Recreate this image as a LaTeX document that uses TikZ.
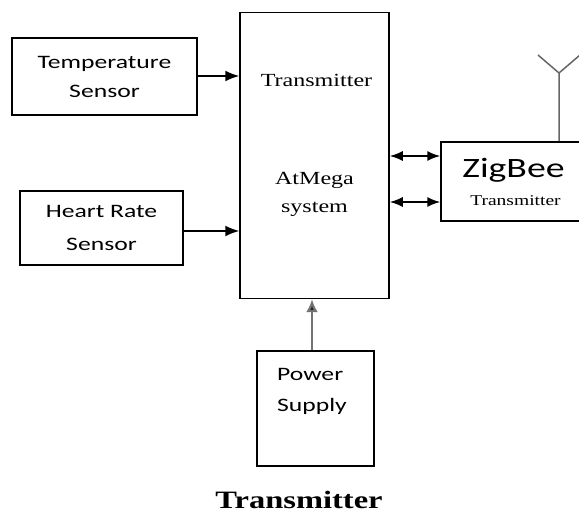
\documentclass[tikz,border=0pt]{standalone}
\usepackage{fontspec}
\setmainfont{Liberation Serif}[FakeStretch=1.3]
\newfontfamily\calibfont{Carlito}[FakeStretch=1.35]
\usetikzlibrary{arrows.meta}
\begin{document}
\begin{tikzpicture}[x=1pt,y=-1pt,
  box/.style={draw, line width=1.5pt, inner sep=0pt},
  sanstext/.style={font=\calibfont\fontsize{19}{29}\selectfont},
  serftext/.style={font=\fontsize{18.5}{22}\selectfont},
  arr/.style={line width=1.6pt, -{Latex[length=14pt,width=11pt]}},
  darr/.style={line width=1.6pt, {Latex[length=13pt,width=10pt]}-{Latex[length=13pt,width=10pt]}},
  parr/.style={line width=2.2pt, draw=black!55, -{Latex[length=13pt,width=12pt,fill=black!85]}},
  antline/.style={line width=1.5pt, draw=black!60}]
\useasboundingbox (0,0) rectangle (579,513);
% sensors
\node[box, minimum width=185pt, minimum height=77pt, align=center, sanstext] (temp) at (104.5,76.5) {Temperature\\Sensor};
\node[box, minimum width=163pt, minimum height=74pt, align=center, font=\calibfont\fontsize{19}{33}\selectfont] (heart) at (101.5,228) {Heart Rate\\Sensor};
% main box
\node[box, minimum width=149pt, minimum height=286pt] (main) at (314.5,155.5) {};
\node[serftext, anchor=base] (mt) at (316.5,87) {Transmitter};
\node[serftext, anchor=base] (at) at (314.5,185) {AtMega};
\node[serftext, anchor=base] (sys) at (314.5,213) {system};
% zigbee
\node[box, minimum width=149pt, minimum height=79pt] (zig) at (515.5,181.5) {};
\node[font=\calibfont\fontsize{28}{32}\selectfont, anchor=base] (zt) at (513.5,178) {ZigBee};
\node[font=\fontsize{15}{17}\selectfont, anchor=base] (zs) at (515.5,206) {Transmitter};
% power
\node[box, minimum width=117pt, minimum height=115pt] (pow) at (315.5,408.5) {};
\node[sanstext, anchor=base west, inner sep=0pt] (p1) at (277,381) {Power};
\node[sanstext, anchor=base west, inner sep=0pt] (p2) at (277,411) {Supply};
% caption
\node[font=\bfseries\fontsize{25}{30}\selectfont, anchor=base] (cap) at (299,508) {Transmitter};
% connectors
\draw[arr] ([yshift=0.5pt]temp.east) -- ([yshift=0.5pt]temp.east -| main.west);
\draw[arr] ([yshift=-3pt]heart.east) -- ([yshift=-3pt]heart.east -| main.west);
\coordinate (d1) at (400,156);
\coordinate (d2) at (400,202);
\draw[darr] (d1 -| main.east) -- (d1 -| zig.west);
\draw[darr] (d2 -| main.east) -- (d2 -| zig.west);
\draw[parr] ([xshift=-3.5pt]pow.north) -- ([xshift=-3.5pt]pow.north |- main.south);
% antenna
\coordinate (ant) at (559,73);
\coordinate (antl) at (538,55);
\coordinate (antr) at (580,55);
\draw[antline] (zig.north -| ant) -- (ant) -- (antl);
\draw[antline] (ant) -- (antr);
\end{tikzpicture}
\end{document}
